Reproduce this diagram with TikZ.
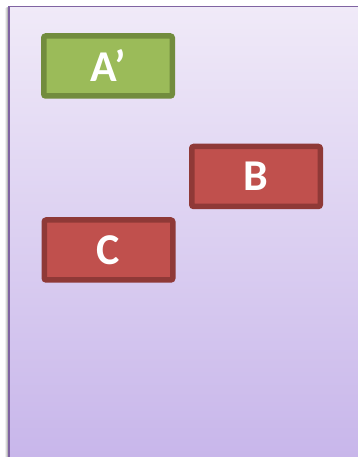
\documentclass[tikz,border=0pt]{standalone}
\usepackage{fontspec}
\setmainfont{Carlito}
\definecolor{bgtop}{HTML}{F0EAF8}
\definecolor{bgbot}{HTML}{C7B5EA}
\definecolor{bgline}{HTML}{8064A2}
\definecolor{gfill}{HTML}{9BBB59}
\definecolor{gline}{HTML}{728C3E}
\definecolor{rfill}{HTML}{C0504D}
\definecolor{rline}{HTML}{8F3937}
\tikzset{
  card/.style={rectangle, rounded corners=2pt, line width=5.5pt, text=white,
    font=\fontsize{44}{44}\selectfont\bfseries, inner sep=0pt,
    minimum width=128.5pt, minimum height=60pt},
  greencard/.style={card, draw=gline, fill=gfill},
  redcard/.style={card, draw=rline, fill=rfill}
}
\begin{document}
\begin{tikzpicture}[x=1pt,y=1pt]
\useasboundingbox (0,0) rectangle (358,457);
\clip (0,0) rectangle (358,457);
\fill[white] (0,0) rectangle (358,457);
% soft shadow of the panel
\foreach \d/\o in {4/0.06,3/0.1,2/0.14,1/0.18}{
  \fill[black,opacity=\o] (9-\d,-10) rectangle (380,450.5-\d*0.3);
}
\shade[top color=bgtop, bottom color=bgbot] (9,-10) rectangle (380,450.5);
\draw[bgline, line width=1.3pt] (9,-10) -- (9,450.5) -- (380,450.5);
\node[greencard] (A) at (108,391) {A’};
\node[redcard] (B) at (256,280.5) {B};
\node[redcard] (C) at (108.5,207) {C};
\end{tikzpicture}
\end{document}
